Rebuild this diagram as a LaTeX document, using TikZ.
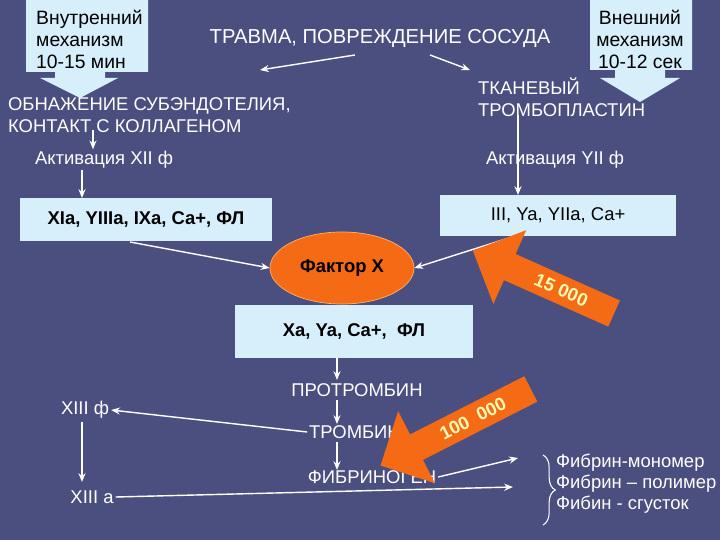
\documentclass[tikz,border=0pt]{standalone}
\usepackage{fontspec}
\setmainfont{Liberation Sans}
\usetikzlibrary{shapes.geometric,shapes.arrows,arrows.meta,decorations.pathreplacing}
\definecolor{bg}{HTML}{4B4F80}
\definecolor{boxc}{HTML}{D6EFFB}
\definecolor{org}{HTML}{F56A14}
\tikzset{
  lbl/.style={text=white,font=\fontsize{10.5}{12.5}\selectfont,inner sep=1pt},
  box/.style={fill=boxc,draw=none,font=\fontsize{10.5}{12}\selectfont\bfseries,text=black},
  con/.style={draw=white,line width=0.8pt,-{Stealth[length=5pt,width=4pt]}},
  fat/.style={single arrow,fill=org,draw=none,shape border rotate=180,minimum width=46pt,single arrow head extend=9pt,text=yellow!30,font=\fontsize{10.5}{12}\selectfont\bfseries,inner sep=1pt},
}
\begin{document}
\begin{tikzpicture}[x=0.02cm,y=-0.02cm]
\useasboundingbox (0,0) rectangle (720,540);
\fill[bg] (0,0) rectangle (720,540);
% callouts
\fill[boxc] (26,0) -- (148,0) -- (148,72) -- (105,72) -- (105,78) -- (118,78) -- (80,98) -- (40,78) -- (55,78) -- (55,72) -- (26,72) -- cycle;
\fill[boxc] (590,0) -- (692,0) -- (692,70) -- (665,70) -- (665,78) -- (680,78) -- (640,102) -- (600,78) -- (615,78) -- (615,70) -- (590,70) -- cycle;
\node[align=left,font=\fontsize{11}{12.5}\selectfont,anchor=north west] (vn) at (30,4) {Внутренний\\механизм\\10-15 мин};
\node[align=center,font=\fontsize{11}{12.5}\selectfont,anchor=north] (vs) at (640,4) {Внешний\\механизм\\10-12 сек};
\node[lbl,font=\fontsize{11.5}{13}\selectfont] (tr) at (380,38) {ТРАВМА, ПОВРЕЖДЕНИЕ СОСУДА};
\node[lbl,align=left,anchor=west] (ob) at (6,115) {ОБНАЖЕНИЕ СУБЭНДОТЕЛИЯ,\\КОНТАКТ С КОЛЛАГЕНОМ};
\node[lbl,align=left,anchor=west] (tt) at (476,97) {ТКАНЕВЫЙ\\ТРОМБОПЛАСТИН};
\coordinate (ta) at (355,55); \coordinate (tb) at (430,55);
\coordinate (la) at (260,70); \coordinate (ra) at (470,70);
\draw[con] (ta) -- (la);
\draw[con] (tb) -- (ra);
\node[lbl,anchor=west] (a12) at (33,160) {Активация XII ф};
\node[lbl,anchor=west] (a7) at (484,160) {Активация YII ф};
\node[box,anchor=north west,minimum width=143pt,minimum height=24pt] (b1) at (20,198) {XIa, YIIIa, IXa, Ca+, ФЛ};
\node[box,anchor=north west,minimum width=134pt,minimum height=23pt,font=\fontsize{10.5}{12}\selectfont] (b2) at (440,195) {III, Ya, YIIa, Ca+};
\draw[con] (93,130) -- (a12.north -| 93,0);
\draw[con] (82,170) -- (b1.north -| 82,0);
\draw[con] (518,115) -- (b2.north -| 518,0);
\node[ellipse,fill=org,draw=orange!60,minimum width=82pt,minimum height=41pt,font=\fontsize{10.5}{12}\selectfont\bfseries] (fx) at (342,268) {Фактор X};
\draw[con] (130,242) -- (fx.west);
\draw[con] (512,237) -- (fx.east);
\node[fat,rotate=-24,minimum height=88pt] (f1) at (550,285) {\hspace{14pt}15 000};
\node[box,anchor=north west,minimum width=135pt,minimum height=30pt] (b3) at (235,305) {Xa, Ya, Ca+,\ \ ФЛ};
\node[lbl] (pt) at (357,390) {ПРОТРОМБИН};
\node[lbl] (tm) at (355,432) {ТРОМБИН};
\node[lbl] (fg) at (372,477) {ФИБРИНОГЕН};
\draw[con] (337,358) -- (337,380);
\draw[con] (337,400) -- (337,424);
\draw[con] (337,442) -- (337,470);
\node[lbl] (x13) at (85,410) {XIII ф};
\node[lbl] (x13a) at (92,497) {XIII а};
\draw[con] (tm.west) -- (x13.east);
\draw[con] (82,422) -- (82,482);
\node[fat,rotate=27,minimum height=96pt] (f2) at (462,424) {\hspace{14pt}100\ \ 000};
\coordinate (e1) at (518,458); \coordinate (e2) at (513,487);
\draw[con] (fg.east) -- (e1);
\draw[con] (x13a.east) -- (e2);
\draw[white,line width=0.6pt,decorate,decoration={brace,amplitude=7pt,mirror}] (543,525) -- (543,455);
\node[lbl,anchor=west] (m1) at (554,463) {Фибрин-мономер};
\node[lbl,anchor=west] (m2) at (554,484) {Фибрин – полимер};
\node[lbl,anchor=west] (m3) at (554,505) {Фибин - сгусток};
\end{tikzpicture}
\end{document}
